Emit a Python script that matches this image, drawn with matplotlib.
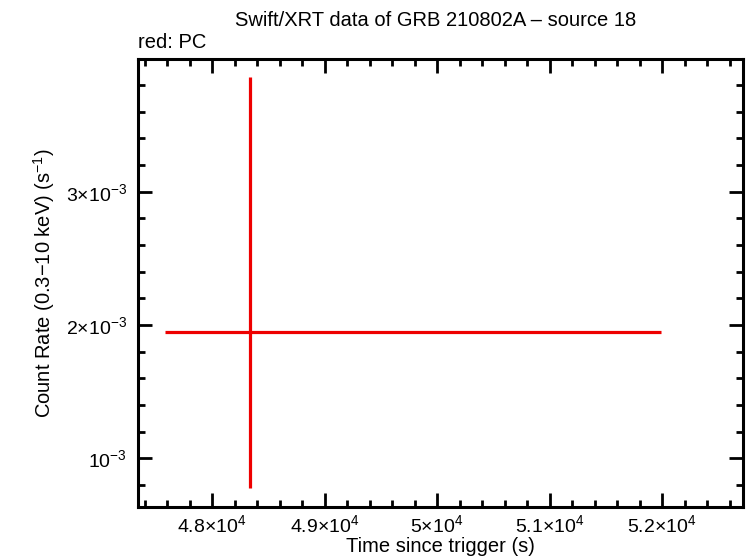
import matplotlib
matplotlib.use("Agg")
import matplotlib.pyplot as plt
from matplotlib.ticker import FixedLocator, MultipleLocator

plt.rcParams['font.family'] = ['Liberation Sans', 'DejaVu Sans']
plt.rcParams['mathtext.fontset'] = 'custom'
plt.rcParams['mathtext.rm'] = 'Liberation Sans'
plt.rcParams['mathtext.it'] = 'Liberation Sans'

# PC mode point
t = [48338]
t_lo = [47582]
t_hi = [51990]
rate = [1.9475e-3]
rate_lo = [0.777e-3]
rate_hi = [3.86e-3]

xticks = [48000, 49000, 50000, 51000, 52000]
xlabels = [r'$4.8{\times}10^{4}$', r'$4.9{\times}10^{4}$', r'$5{\times}10^{4}$',
           r'$5.1{\times}10^{4}$', r'$5.2{\times}10^{4}$']
yticks = [1e-3, 2e-3, 3e-3]
ylabels = [r'$10^{-3}$', r'$2{\times}10^{-3}$', r'$3{\times}10^{-3}$']

fig = plt.figure(figsize=(7.46, 5.58), dpi=100)
ax = fig.add_axes([138/746, 1-507/558, (743-138)/746, (507-59)/558])

xerr = [[t[0]-t_lo[0]], [t_hi[0]-t[0]]]
yerr = [[rate[0]-rate_lo[0]], [rate_hi[0]-rate[0]]]
ax.errorbar(t, rate, xerr=xerr, yerr=yerr, fmt='none', ecolor='#ee0000',
            elinewidth=2.3, capsize=0)

ax.set_xlim(47342, 52720)
ax.set_ylim(0.635e-3, 3.995e-3)

ax.xaxis.set_major_locator(FixedLocator(xticks))
ax.set_xticklabels(xlabels)
ax.xaxis.set_minor_locator(MultipleLocator(200))
ax.yaxis.set_major_locator(FixedLocator(yticks))
ax.set_yticklabels(ylabels)
ax.yaxis.set_minor_locator(MultipleLocator(2e-4))

ax.tick_params(which='both', direction='in', top=True, right=True, width=2,
               labelsize=14)
ax.tick_params(axis='x', pad=5)
ax.tick_params(axis='y', pad=8)
ax.tick_params(which='major', length=10)
ax.tick_params(which='minor', length=5)
for s in ax.spines.values():
    s.set_linewidth(2.2)

fig.text(440/746, 1-546/558, 'Time since trigger (s)', ha='center', va='center',
         fontsize=14.5)
ax.set_ylabel(r'Count Rate (0.3$-$10 keV) (s$^{-1}$)', fontsize=14.5, labelpad=6)
fig.text(436/746, 1-20/558, 'Swift/XRT data of GRB 210802A \u2013 source 18',
         ha='center', va='center', fontsize=14.5)
fig.text(138/746, 1-42/558, 'red: PC', ha='left', va='center', fontsize=14.5)

fig.savefig('out.png', dpi=100)
